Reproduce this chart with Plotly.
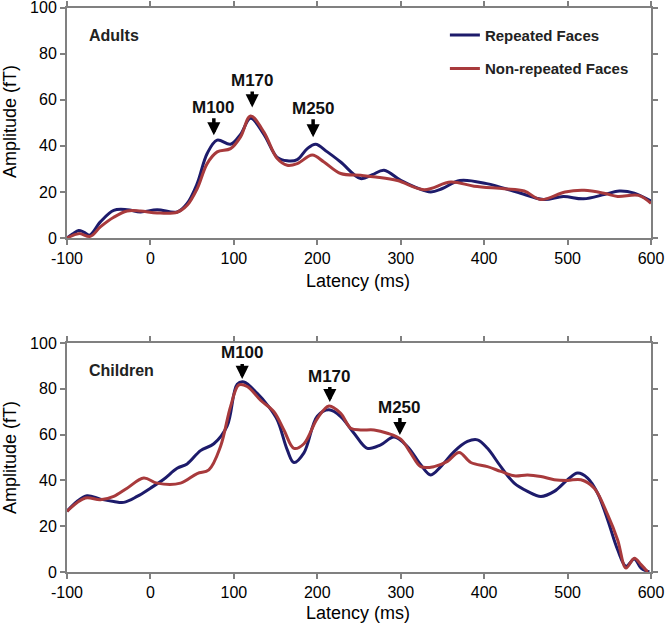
import plotly.graph_objects as go

# ---------------- data ----------------
adult_rep_t = [-100, -93, -86, -80, -73, -60, -44, -28, -12, 8, 32, 44, 56, 68, 80, 96, 108, 120, 136,
               152, 164, 176, 188, 198, 212, 228, 252, 266, 280, 300, 318, 336, 350, 371, 403, 439,
               471, 495, 519, 545, 562, 580, 600]
adult_rep_a = [0, 1.8, 3.3, 2.6, 1.2, 7, 12, 12.3, 11.3, 12.3, 11.3, 15, 23.6, 36.7, 42.5, 40.7, 45, 52, 45,
               35, 33.5, 34, 38.8, 40.7, 37.4, 33, 25.8, 27.5, 29.4, 25, 22, 20, 21.5, 25, 23.6, 20,
               16.7, 18, 17, 19, 20.4, 19.5, 16]

adult_non_t = [-100, -86, -72, -60, -44, -28, -12, 8, 32, 44, 56, 68, 80, 96, 108, 120, 136, 152, 164,
               176, 194, 208, 228, 252, 270, 296, 328, 360, 388, 424, 448, 468, 497, 520, 545, 560,
               585, 600]
adult_non_a = [0, 1.9, 0.7, 4.8, 9, 11.7, 11.7, 10.9, 11.2, 14.2, 21.4, 32.3, 37.4, 38.8, 43.9, 53, 46,
               34.5, 31.6, 32.3, 36, 33, 28, 27.2, 26.5, 25, 21, 24.3, 22.5, 21.4, 20.4, 16.7, 20,
               20.7, 19.3, 18, 18.5, 15]

child_rep_t = [-100, -88, -76, -60, -44, -32, -16, 0, 16, 32, 44, 60, 76, 92, 104, 112, 128, 140, 152,
               164, 172, 184, 200, 214, 228, 244, 260, 276, 292, 308, 324, 336, 348, 364, 380, 392,
               404, 420, 436, 452, 468, 484, 500, 512, 524, 536, 548, 560, 570, 580, 588, 598]
child_rep_a = [26.5, 30.8, 33.3, 31.8, 30.8, 30.4, 33, 36.6, 40.5, 45.3, 47.2, 53, 56, 63.8, 82, 83, 78,
               73, 66.4, 53.3, 47.8, 52, 68, 70.8, 67.9, 60.6, 54, 55.5, 58.9, 54.8, 46.8, 42.4, 46,
               52.6, 57, 57.7, 54, 46, 38.8, 35.2, 33, 35.2, 40.3, 43.2, 41, 34.4, 22.8, 9.7, 2.5,
               5.7, 1.7, 0]

child_non_t = [-100, -78, -60, -44, -28, -8, 8, 36, 56, 70, 84, 96, 106, 116, 132, 148, 160, 172, 184,
               200, 214, 228, 240, 252, 268, 284, 300, 312, 324, 340, 356, 370, 384, 404, 420, 436,
               452, 468, 484, 500, 516, 532, 548, 560, 570, 580, 588, 596]
child_non_a = [26.5, 32.3, 31.5, 33, 36.6, 41, 38.8, 38.8, 43, 44.6, 54.8, 72.2, 81.7, 81, 75, 70, 62,
               54, 56, 67, 72.5, 69.3, 62.8, 62, 62, 60.6, 58, 51.9, 46, 46, 48.3, 52.2, 47.8, 46,
               43.9, 42, 42.4, 41.7, 40.3, 40, 40.3, 36.6, 25, 14, 1.7, 6, 3.2, 0]

x_ticks = [-100, 0, 100, 200, 300, 400, 500, 600]
x_tick_labels = ["-100", "0", "100", "200", "300", "400", "500", "600"]
y_ticks = [0, 20, 40, 60, 80, 100]

# peak labels: (name, latency, amplitude at arrow tip, text offset px)
adult_peaks = [("M100", 76, 44.6, -28), ("M170", 122, 56.7, -27), ("M250", 195, 43.7, -29)]
child_peaks = [("M100", 110, 84.3, -26), ("M170", 215, 74.2, -26), ("M250", 299, 59.8, -28)]

BLUE = "#1d1b6b"
RED = "#a83a3c"

fig = go.Figure()
fig.add_trace(go.Scatter(x=adult_rep_t, y=adult_rep_a, mode="lines", name="Repeated Faces",
                         line=dict(color=BLUE, width=3, shape="spline", smoothing=1.0),
                         legendgroup="a", xaxis="x", yaxis="y"))
fig.add_trace(go.Scatter(x=adult_non_t, y=adult_non_a, mode="lines", name="Non-repeated Faces",
                         line=dict(color=RED, width=3, shape="spline", smoothing=1.0),
                         legendgroup="b", xaxis="x", yaxis="y"))
fig.add_trace(go.Scatter(x=child_rep_t, y=child_rep_a, mode="lines", name="Repeated Faces",
                         line=dict(color=BLUE, width=3, shape="spline", smoothing=1.0),
                         showlegend=False, xaxis="x2", yaxis="y2"))
fig.add_trace(go.Scatter(x=child_non_t, y=child_non_a, mode="lines", name="Non-repeated Faces",
                         line=dict(color=RED, width=3, shape="spline", smoothing=1.0),
                         showlegend=False, xaxis="x2", yaxis="y2"))

ax_common = dict(showgrid=False, zeroline=False, showline=True, linecolor="#808080", linewidth=2,
                 mirror="ticks", ticks="outside", ticklen=5, tickcolor="#808080", tickwidth=1.5,
                 tickfont=dict(family="Arial", size=16, color="black"), automargin=False,
                 ticklabeloverflow="allow")

XD = [0.1006, 0.9775]
fig.update_layout(
    width=666, height=626,
    margin=dict(l=0, r=0, t=0, b=0),
    paper_bgcolor="white", plot_bgcolor="white",
    xaxis=dict(domain=XD, range=[-100, 600], tickvals=x_ticks, ticktext=x_tick_labels, anchor="y", **ax_common),
    yaxis=dict(domain=[0.6198, 0.9877], range=[0, 100], tickvals=y_ticks, anchor="x", **ax_common),
    xaxis2=dict(domain=XD, range=[-100, 600], tickvals=x_ticks, ticktext=x_tick_labels, anchor="y2", **ax_common),
    yaxis2=dict(domain=[0.0863, 0.4521], range=[0, 100], tickvals=y_ticks, anchor="x2", **ax_common),
    legend=dict(x=0.668, y=0.97, xanchor="left", yanchor="top", bgcolor="rgba(0,0,0,0)",
                font=dict(family="Arial", size=15, color="#222222", weight="bold"),
                traceorder="grouped", tracegroupgap=11),
    showlegend=True,
)

ann = []
for name, t, a, off in adult_peaks:
    ann.append(dict(x=t, y=a, xref="x", yref="y", text=name, showarrow=True, ax=0, ay=off,
                    arrowhead=2, arrowsize=0.75, arrowwidth=3.5, arrowcolor="black", standoff=0,
                    font=dict(family="Arial", size=17, color="#111111", weight="bold")))
for name, t, a, off in child_peaks:
    ann.append(dict(x=t, y=a, xref="x2", yref="y2", text=name, showarrow=True, ax=0, ay=off,
                    arrowhead=2, arrowsize=0.75, arrowwidth=3.5, arrowcolor="black", standoff=0,
                    font=dict(family="Arial", size=17, color="#111111", weight="bold")))

ann.append(dict(x=87 / 666, y=1 - 35 / 626, xref="paper", yref="paper", text="Adults", showarrow=False,
                xanchor="left", yanchor="middle",
                font=dict(family="Arial", size=16, color="#222222", weight="bold")))
ann.append(dict(x=87 / 666, y=1 - 370 / 626, xref="paper", yref="paper", text="Children", showarrow=False,
                xanchor="left", yanchor="middle",
                font=dict(family="Arial", size=16, color="#222222", weight="bold")))

title_font = dict(family="Arial", size=18, color="black")
ann.append(dict(x=10 / 666, y=1 - 122 / 626, xref="paper", yref="paper", text="Amplitude (fT)",
                showarrow=False, textangle=-90, xanchor="center", yanchor="middle", font=title_font))
ann.append(dict(x=10 / 666, y=1 - 458 / 626, xref="paper", yref="paper", text="Amplitude (fT)",
                showarrow=False, textangle=-90, xanchor="center", yanchor="middle", font=title_font))
ann.append(dict(x=358 / 666, y=1 - 281 / 626, xref="paper", yref="paper", text="Latency (ms)",
                showarrow=False, xanchor="center", yanchor="middle", font=title_font))
ann.append(dict(x=358 / 666, y=1 - 613 / 626, xref="paper", yref="paper", text="Latency (ms)",
                showarrow=False, xanchor="center", yanchor="middle", font=title_font))

fig.update_layout(annotations=ann)
fig.write_html("out.html", config={"displayModeBar": False},
               post_script="document.body.style.margin='0';document.body.style.overflow='hidden';")
